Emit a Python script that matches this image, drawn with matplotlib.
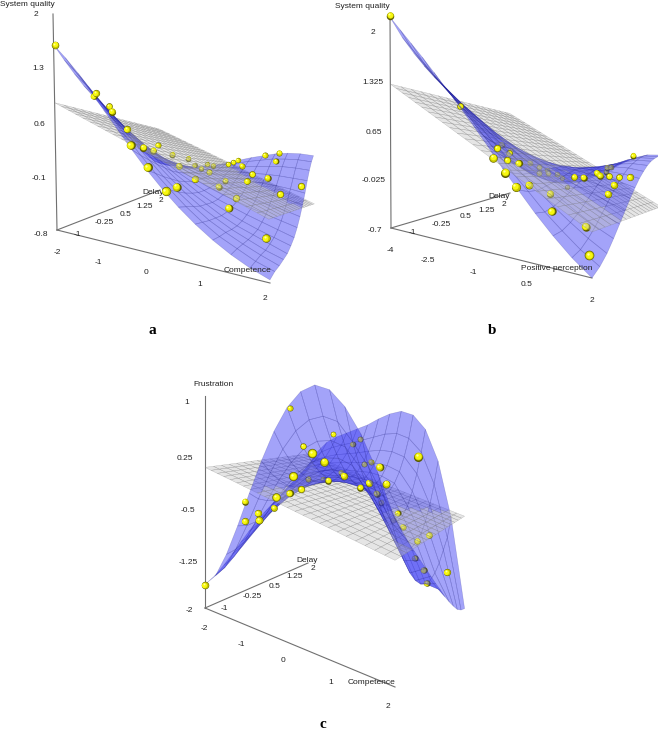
import numpy as np
import matplotlib
matplotlib.use('Agg')
import matplotlib.pyplot as plt
from matplotlib.patches import Polygon

plt.rcParams['font.family'] = ['Liberation Sans', 'DejaVu Sans']

# sampled points, values in hundredths
competence_a = [-196,-148,-188,-160,-121,-96,-31,-69,-107,-81,2,29,35,-79,-66,-35,18,-76,-44,-43,-6,25,37,88,92,1,10,22,58,99,89,127,104,132,125,199,163,162,-95]
delay_a = [-100,-56,-23,-11,-45,-35,-100,-23,71,22,-100,-62,-100,83,124,41,13,200,172,200,113,126,71,42,1,191,200,200,140,97,92,108,159,171,168,88,73,-6,200]
quality_a = [160,99,94,81,75,52,40,28,21,19,17,-9,-7,7,-3,-2,-12,-30,-16,-22,-19,-31,-30,-36,-40,-15,-12,-8,-7,-11,-21,-15,10,15,2,-17,-29,-67,-25]

perception_b = [-399,-312,-260,-168,-236,-185,-102,-144,-116,-209,-48,-182,-189,-153,-154,-128,-26,-56,-40,-159,-140,-14,11,45,54,13,16,31,78,105,156,117,102,24,97,142,114]
delay_b = [-100,-2,72,-4,80,39,-58,4,13,122,-70,131,167,107,140,149,-63,-8,38,200,200,94,102,114,116,200,200,200,124,133,102,89,84,-17,7,-36,194]
quality_b = [222,100,38,39,28,28,32,22,18,5,17,-3,-12,-9,-13,-14,0,-7,-25,-29,-45,-7,-8,-1,-5,-10,-3,-2,-6,-7,-1,-12,-25,-35,-54,-73,21]

competence_c = [-200,-172,-203,-134,-156,-94,-36,-151,-81,13,-61,-121,52,36,-113,-136,-155,-53,-102,10,-69,-49,-38,-20,96,52,106,5,34,192,7,48,38,61,95,128,89,110,117,183]
delay_c = [-100,102,0,-32,-44,-69,-87,29,-2,-100,9,86,-100,-47,184,122,200,84,200,49,200,200,200,200,38,73,44,117,133,-4,200,200,200,200,200,186,200,200,200,146]
frustration_c = [-167,94,-59,-64,-77,-63,-22,-66,-31,12,-24,33,44,29,51,-26,-36,-17,-18,0,36,47,3,9,22,-8,-1,-25,-33,47,-59,-72,-85,-93,-111,-94,-141,-157,-177,-134]

# fitted surfaces, rows along the first axis, columns along delay, in hundredths
surface_a = [
 [160,142,125,109,95,80,66,52,38,24,10,-2,-13,-23,-30],
 [143,126,110,95,81,67,54,41,28,16,4,-7,-17,-26,-32],
 [124,108,93,79,66,53,41,30,18,8,-2,-12,-20,-27,-32],
 [102,88,74,62,50,39,28,18,9,0,-8,-15,-21,-27,-31],
 [79,67,55,44,34,24,15,7,0,-6,-12,-17,-22,-25,-28],
 [57,46,36,27,18,10,3,-3,-8,-12,-16,-19,-21,-22,-24],
 [35,26,18,10,3,-4,-9,-13,-16,-18,-19,-19,-19,-19,-19],
 [14,7,0,-6,-12,-16,-19,-21,-22,-22,-21,-19,-17,-14,-13],
 [-5,-10,-16,-21,-25,-28,-29,-29,-28,-26,-22,-18,-14,-10,-7],
 [-22,-26,-30,-34,-36,-38,-38,-36,-33,-29,-23,-17,-11,-5,-1],
 [-37,-40,-43,-45,-47,-47,-45,-42,-38,-31,-24,-16,-8,-1,4],
 [-50,-52,-53,-55,-56,-55,-52,-48,-42,-34,-25,-15,-6,3,9],
 [-61,-61,-62,-63,-63,-62,-58,-53,-45,-36,-26,-15,-4,5,12],
 [-70,-70,-70,-71,-70,-68,-64,-58,-49,-39,-28,-16,-4,6,13],
 [-77,-76,-77,-77,-77,-74,-70,-63,-54,-43,-31,-17,-5,5,12]]
surface_b = [
 [220,196,177,160,145,131,116,100,83,65,47,30,15,3,-3],
 [200,177,159,143,130,116,102,87,71,54,37,21,6,-6,-12],
 [180,158,141,127,114,101,88,74,59,43,27,11,-3,-15,-21],
 [160,139,123,110,98,87,75,62,48,33,18,2,-12,-23,-30],
 [139,120,105,93,83,73,62,50,38,24,10,-5,-18,-29,-36],
 [118,101,87,77,68,59,50,40,29,17,4,-10,-22,-32,-39],
 [96,81,69,61,53,47,39,31,22,11,0,-12,-23,-32,-39],
 [74,60,51,45,40,35,30,24,17,8,-1,-11,-21,-29,-35],
 [51,40,33,29,26,24,21,18,13,7,0,-8,-16,-23,-27],
 [27,19,15,14,14,14,14,13,11,7,3,-3,-9,-14,-17],
 [5,0,-2,0,2,5,8,10,10,9,7,4,0,-4,-6],
 [-17,-20,-18,-14,-9,-3,2,6,9,11,11,10,9,7,6],
 [-37,-37,-33,-27,-19,-11,-3,3,9,13,15,16,17,16,17],
 [-55,-53,-47,-39,-29,-19,-9,0,7,13,17,20,22,23,23],
 [-70,-66,-59,-49,-38,-27,-16,-6,3,10,16,20,22,23,24]]
surface_c = [
 [-166,-159,-148,-135,-121,-108,-95,-84,-74,-65,-57,-49,-42,-33,-23],
 [-148,-141,-130,-118,-104,-91,-78,-65,-54,-43,-33,-23,-13,-1,14],
 [-113,-110,-103,-94,-83,-72,-61,-50,-39,-29,-19,-8,4,17,34],
 [-69,-72,-70,-66,-60,-53,-45,-37,-29,-20,-11,0,12,27,46],
 [-21,-31,-36,-38,-38,-36,-32,-27,-21,-14,-6,5,18,34,55],
 [25,8,-4,-13,-18,-20,-20,-19,-16,-10,-3,8,22,40,64],
 [66,42,23,9,-1,-8,-12,-13,-12,-8,0,11,26,47,73],
 [98,68,44,25,10,0,-7,-10,-10,-6,1,14,31,54,85],
 [119,84,56,33,16,3,-6,-10,-11,-7,2,15,35,61,95],
 [128,90,59,35,15,1,-9,-14,-15,-10,-1,14,35,64,101],
 [123,85,53,28,8,-7,-17,-22,-23,-19,-9,7,29,58,96],
 [104,62,30,5,-18,-35,-48,-55,-56,-52,-40,-20,5,38,74],
 [74,35,5,-25,-50,-70,-82,-88,-90,-86,-78,-62,-40,-10,25],
 [33,0,-30,-60,-85,-105,-120,-130,-135,-135,-130,-120,-105,-90,-62],
 [-16,-33,-49,-64,-79,-94,-109,-124,-138,-153,-166,-178,-189,-196,-200]]

# linear fit planes at the four corners (x0y0, x0y1, x1y0, x1y1)
plane_a = [.85,.35,-.18,-.63]
plane_b = [1.28,.91,-.26,-.59]
plane_c = [.03,.08,-.61,-.56]

x_ticks_a = ['-2','-1','0','1','2']
x_ticks_b = ['-4','-2.5','-1','0.5','2']
delay_ticks = ['-1','-0.25','0.5','1.25','2']
z_ticks_a = ['2','1.3','0.6','-0.1','-0.8']
z_ticks_b = ['2','1.325','0.65','-0.025','-0.7']
z_ticks_c = ['1','0.25','-0.5','-1.25','-2']

panels = [
 dict(x=competence_a,y=delay_a,z=quality_a,surf=surface_a,plane=plane_a,xr=(-2,2),zr=(-.8,2),front=[],
  p=-.25,q=.45,O=(57,230),Ex=(270,283),Ey=(160,190),T=(53,14),
  xticks=x_ticks_a,zticks=z_ticks_a,
  xpos=[(57,253),(98,262),(146,272),(200,284),(265,298)],
  ypos=[(77,234),(104,223),(126,214),(145,207),(161,201)],
  zpos=[(36,14),(38,69),(39,124),(39,179),(41,234)],
  xlabel='Competence',xl=(247,270),yl=(153,192),zlabel='System quality',zl=(27,4),tag='a',tl=(152,331)),
 dict(x=perception_b,y=delay_b,z=quality_b,surf=surface_b,plane=plane_b,xr=(-4,2),zr=(-.7,2.23),front=[33],
  p=-.305,q=.47,O=(391,228),Ex=(592,278),Ey=(510,193),T=(390,15),
  xticks=x_ticks_b,zticks=z_ticks_b,
  xpos=[(390,251),(428,260),(473,272),(527,284),(592,300)],
  ypos=[(412,233),(441,224),(466,217),(487,210),(504,204)],
  zpos=[(373,33),(373,83),(374,132),(374,181),(375,230)],
  xlabel='Positive perception',xl=(557,269),yl=(499,196),zlabel='System quality',zl=(362,6),tag='b',tl=(492,331)),
 dict(x=competence_c,y=delay_c,z=frustration_c,surf=surface_c,plane=plane_c,xr=(-2,2),zr=(-2,1.06),front=[1,11,14],
  p=-.24,q=.32,O=(205,608),Ex=(395,687),Ey=(308,563),T=(205,396),
  xticks=x_ticks_a,zticks=z_ticks_c,
  xpos=[(204,628),(241,644),(283,661),(331,682),(388,706)],
  ypos=[(224,609),(252,597),(275,587),(295,577),(313,569)],
  zpos=[(187,402),(185,458),(188,511),(188,562),(189,610)],
  xlabel='Competence',xl=(371,683),yl=(307,560),zlabel='Frustration',zl=(213,385),tag='c',tl=(323,724)),
]

def project(P, X, Y, Z):
    # perspective from the unit cube to the picture
    p, q = P['p'], P['q']
    O, Ex, Ey, T = [np.array(P[k], float) for k in ('O', 'Ex', 'Ey', 'T')]
    w = 1 + p*X + q*Y
    sx = (O[0] + X*((1+p)*Ex[0]-O[0]) + Y*((1+q)*Ey[0]-O[0]) + Z*(T[0]-O[0])) / w
    sy = (O[1] + X*((1+p)*Ex[1]-O[1]) + Y*((1+q)*Ey[1]-O[1]) + Z*(T[1]-O[1])) / w
    return sx, sy, w

def depth(w):
    return 50 - 20*w

def draw_cells(ax, sx, sy, w, fc, ec, lw):
    for i in range(sx.shape[0]-1):
        for j in range(sx.shape[1]-1):
            xy = [(sx[i,j],sy[i,j]),(sx[i+1,j],sy[i+1,j]),(sx[i+1,j+1],sy[i+1,j+1]),(sx[i,j+1],sy[i,j+1])]
            ax.add_patch(Polygon(xy, closed=True, fc=fc, ec=ec, lw=lw, zorder=depth(w[i:i+2,j:j+2].mean())))

fig = plt.figure(figsize=(6.58,7.32), dpi=100)
ax = fig.add_axes([0,0,1,1])
ax.set_xlim(0,658)
ax.set_ylim(732,0)
ax.axis('off')

for P in panels:
    zmin, zmax = P['zr']
    # axes
    for end in [(1,0,0),(0,1,0),(0,0,1)]:
        a = project(P,0,0,0)
        b = project(P,*end)
        ax.plot([a[0],b[0]],[a[1],b[1]],color='#707070',lw=.8,zorder=1)
    # surface
    Zs = (np.array(P['surf'])/100 - zmin)/(zmax-zmin)
    t = np.linspace(0,1,Zs.shape[0])
    X, Y = np.meshgrid(t,t,indexing='ij')
    sx, sy, w = project(P,X,Y,Zs)
    draw_cells(ax,sx,sy,w,(0.2,0.2,0.95,.45),(0.1,0.1,.5,.25),.4)
    # plane
    c = (np.array(P['plane'])-zmin)/(zmax-zmin)
    U, V = np.meshgrid(np.linspace(0,1,25),np.linspace(0,1,17),indexing='ij')
    Zp = (1-U)*(1-V)*c[0] + (1-U)*V*c[1] + U*(1-V)*c[2] + U*V*c[3]
    sx, sy, w = project(P,U,V,Zp)
    draw_cells(ax,sx,sy,w,(.75,.75,.75,.4),(.45,.45,.45,.5),.25)
    # points as shaded balls
    xs = (np.array(P['x'])/100 - P['xr'][0])/(P['xr'][1]-P['xr'][0])
    ys = (np.array(P['y'])/100 + 1)/3
    zs = (np.array(P['z'])/100 - zmin)/(zmax-zmin)
    sx, sy, w = project(P,xs,ys,zs)
    for k, (a, b, v) in enumerate(zip(sx,sy,w)):
        d = 7.5/v**1.3
        zz = 39 if k in P['front'] else depth(v-.18)
        for col, f, o in [('#5a5a00',1,0),('#c5c500',.88,-.03),('#f8f810',.7,-.07),('#ffffa0',.25,-.17)]:
            ax.scatter([a+o*d],[b+o*d],s=(d*f*.72)**2,color=col,lw=0,zorder=zz+.001)
    # text
    for s, pos in zip(P['xticks'],P['xpos']):
        ax.text(pos[0],pos[1],s,ha='center',va='center',fontsize=6,color='#222222',zorder=40)
    for s, pos in zip(delay_ticks,P['ypos']):
        ax.text(pos[0],pos[1],s,ha='center',va='center',fontsize=6,color='#222222',zorder=40)
    for s, pos in zip(P['zticks'],P['zpos']):
        ax.text(pos[0],pos[1],s,ha='center',va='center',fontsize=6,color='#222222',zorder=40)
    ax.text(*P['xl'],P['xlabel'],ha='center',va='center',fontsize=6,color='#222222',zorder=40)
    ax.text(*P['yl'],'Delay',ha='center',va='center',fontsize=6,color='#222222',zorder=5)
    ax.text(*P['zl'],P['zlabel'],ha='center',va='center',fontsize=6,color='#222222',zorder=40)
    ax.text(*P['tl'],P['tag'],ha='center',va='center',fontsize=11,fontweight='bold',family='Liberation Serif',color='black')

fig.savefig('out.png',dpi=100)
